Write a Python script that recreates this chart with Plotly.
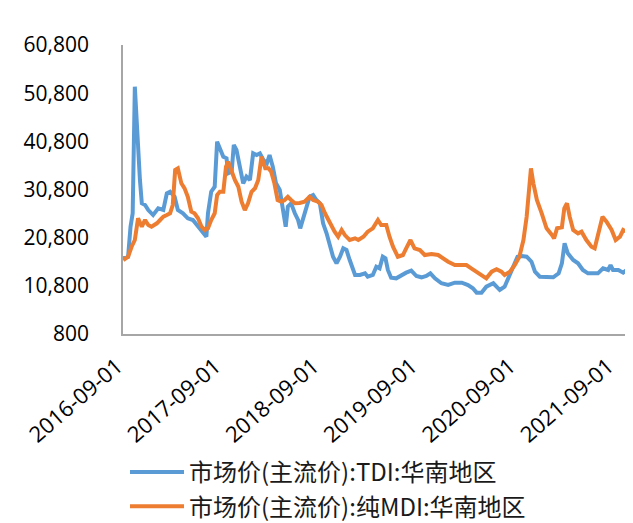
import plotly.graph_objects as go

# ---------------- data ----------------
tdi_dates = [
    "2016-09-02", "2016-09-20", "2016-09-29", "2016-10-07", "2016-10-15", "2016-10-21",
    "2016-10-27", "2016-11-03", "2016-11-10", "2016-11-22", "2016-12-04", "2016-12-22",
    "2017-01-10", "2017-01-29", "2017-02-11", "2017-02-23", "2017-03-12", "2017-03-24",
    "2017-04-12", "2017-04-30", "2017-05-19", "2017-06-07", "2017-06-25", "2017-07-08",
    "2017-07-14", "2017-07-26", "2017-08-08", "2017-08-17", "2017-08-27", "2017-09-09",
    "2017-09-21", "2017-09-27", "2017-10-10", "2017-10-18", "2017-10-28", "2017-11-10",
    "2017-11-22", "2017-12-04", "2017-12-17", "2017-12-29", "2018-01-11", "2018-01-23",
    "2018-02-05", "2018-02-18", "2018-02-28", "2018-03-12", "2018-03-24", "2018-04-07",
    "2018-04-19", "2018-04-29", "2018-05-07", "2018-05-19", "2018-06-02", "2018-06-14",
    "2018-06-22", "2018-07-02", "2018-07-14", "2018-07-27", "2018-08-09", "2018-08-21",
    "2018-09-03", "2018-09-15", "2018-09-28", "2018-10-10", "2018-10-22", "2018-11-04",
    "2018-11-17", "2018-11-29", "2018-12-11", "2018-12-23", "2019-01-12", "2019-01-30",
    "2019-02-18", "2019-02-28", "2019-03-19", "2019-04-01", "2019-04-13", "2019-04-25",
    "2019-05-05", "2019-05-14", "2019-05-26", "2019-06-14", "2019-07-03", "2019-07-21",
    "2019-08-09", "2019-08-28", "2019-09-16", "2019-10-04", "2019-10-19", "2019-11-05",
    "2019-11-29", "2019-12-24", "2020-01-18", "2020-02-13", "2020-03-07", "2020-03-25",
    "2020-04-08", "2020-04-26", "2020-05-14", "2020-06-09", "2020-06-21", "2020-07-03",
    "2020-07-21", "2020-08-07", "2020-08-22", "2020-09-07", "2020-09-23", "2020-10-11",
    "2020-10-29", "2020-11-11", "2020-11-29", "2020-12-24", "2021-01-18", "2021-02-07",
    "2021-02-19", "2021-03-01", "2021-03-13", "2021-04-02", "2021-04-20", "2021-05-08",
    "2021-05-27", "2021-06-15", "2021-07-03", "2021-07-22", "2021-08-10", "2021-08-19",
    "2021-08-28", "2021-09-17", "2021-10-05", "2021-10-18", "2021-11-02",
]
tdi_values = [
    16500, 16850, 23080, 25860, 52140, 45230,
    37610, 32770, 27930, 27580, 26540, 25500,
    26890, 26540, 30010, 30340, 29300, 26540,
    25860, 24820, 24470, 23080, 22040, 21000,
    25860, 30340, 31380, 40720, 39350, 37610,
    37270, 34160, 34490, 40040, 39000, 34850,
    32080, 33470, 32770, 38310, 37960, 38310,
    36920, 36230, 37960, 35540, 32080, 30690,
    26540, 23080, 27230, 27930, 25860, 24470,
    22740, 24470, 26540, 29300, 29660, 28620,
    27930, 23780, 21700, 18920, 16850, 15480,
    16850, 18590, 18240, 16160, 13050, 13050,
    13400, 12700, 13050, 14770, 14440, 16850,
    16510, 14090, 12490, 12360, 13050, 13530,
    13950, 12840, 12570, 12840, 13400, 12360,
    11330, 10970, 11450, 11450, 10970, 10290,
    9380, 9380, 10620, 11330, 10620, 9930,
    10620, 12700, 14770, 16850, 17000, 16850,
    15810, 13740, 12700, 12700, 12570, 13400,
    15480, 19630, 17550, 16160, 15480, 14090,
    13400, 13400, 13400, 14440, 14090, 15120,
    14090, 14090, 13530, 14090, 15120,
]

mdi_dates = [
    "2016-09-02", "2016-09-20", "2016-10-03", "2016-10-15", "2016-10-27", "2016-11-10",
    "2016-11-22", "2016-12-04", "2016-12-16", "2017-01-05", "2017-01-17", "2017-01-29",
    "2017-02-11", "2017-02-23", "2017-03-05", "2017-03-14", "2017-03-24", "2017-04-06",
    "2017-04-18", "2017-04-30", "2017-05-13", "2017-05-25", "2017-06-07", "2017-06-20",
    "2017-07-02", "2017-07-14", "2017-07-26", "2017-08-08", "2017-08-17", "2017-08-27",
    "2017-09-09", "2017-09-19", "2017-09-27", "2017-10-10", "2017-10-22", "2017-11-04",
    "2017-11-16", "2017-11-28", "2017-12-10", "2017-12-23", "2018-01-05", "2018-01-17",
    "2018-01-29", "2018-02-12", "2018-02-24", "2018-03-06", "2018-03-18", "2018-03-30",
    "2018-04-13", "2018-04-25", "2018-05-07", "2018-05-19", "2018-06-02", "2018-06-20",
    "2018-07-08", "2018-07-27", "2018-08-09", "2018-08-27", "2018-09-09", "2018-09-22",
    "2018-10-04", "2018-10-16", "2018-10-28", "2018-11-10", "2018-11-23", "2018-12-05",
    "2018-12-23", "2019-01-12", "2019-01-24", "2019-02-12", "2019-02-28", "2019-03-19",
    "2019-04-07", "2019-04-19", "2019-05-08", "2019-05-20", "2019-06-02", "2019-06-20",
    "2019-07-09", "2019-07-21", "2019-08-06", "2019-08-21", "2019-09-10", "2019-09-28",
    "2019-10-23", "2019-11-17", "2019-12-05", "2019-12-24", "2020-01-18", "2020-02-13",
    "2020-03-01", "2020-03-19", "2020-04-08", "2020-04-26", "2020-05-14", "2020-06-03",
    "2020-06-21", "2020-07-09", "2020-07-21", "2020-08-10", "2020-08-28", "2020-09-14",
    "2020-09-29", "2020-10-11", "2020-10-19", "2020-10-27", "2020-11-05", "2020-11-18",
    "2020-12-06", "2020-12-24", "2021-01-13", "2021-01-21", "2021-02-01", "2021-02-19",
    "2021-02-28", "2021-03-10", "2021-03-20", "2021-04-02", "2021-04-20", "2021-05-03",
    "2021-05-21", "2021-06-09", "2021-06-21", "2021-07-03", "2021-07-20", "2021-08-04",
    "2021-08-23", "2021-09-07", "2021-09-23", "2021-10-05", "2021-10-18", "2021-10-30",
]
mdi_values = [
    16160, 16850, 18920, 20310, 24820, 23080,
    24470, 23430, 23080, 23780, 24470, 25160,
    25500, 25860, 27580, 34850, 35200, 32080,
    31050, 29300, 26190, 25860, 24820, 23080,
    22390, 22740, 24470, 25860, 29660, 30340,
    30340, 35540, 36570, 34490, 32770, 31380,
    28270, 26540, 27930, 30340, 31050, 32770,
    37610, 35200, 35200, 34490, 32080, 28620,
    28270, 28620, 29300, 28620, 27930, 28000,
    28270, 29300, 28620, 28270, 27580, 25860,
    24470, 23080, 22040, 21000, 22390, 21350,
    20310, 20660, 20310, 21000, 22040, 22740,
    24470, 23430, 23430, 21000, 18920, 16850,
    17200, 18590, 20310, 18590, 18240, 17200,
    17400, 17200, 16510, 15810, 15120, 15120,
    15120, 14440, 13740, 13050, 12360, 13740,
    14230, 13740, 13050, 13740, 15120, 16850,
    20310, 25160, 31380, 35200, 32080, 28620,
    25860, 22740, 21350, 20660, 22740, 22950,
    26890, 27930, 25160, 22390, 21700, 22040,
    20310, 18920, 18590, 21700, 25160, 24120,
    22390, 20310, 21000, 22390, 22040, 23430,
]

tdi_name = "市场价(主流价):TDI:华南地区"
mdi_name = "市场价(主流价):纯MDI:华南地区"

x_tick_dates = ["2016-09-01", "2017-09-01", "2018-09-01", "2019-09-01", "2020-09-01", "2021-09-01"]
y_ticks = [800, 10800, 20800, 30800, 40800, 50800, 60800]
x_range = ["2016-09-01", "2021-11-03"]
y_range = [800, 60800]

# ---------------- figure ----------------
FONT = "Open Sans, Noto Sans CJK SC, sans-serif"
CJK = "Noto Sans CJK SC, sans-serif"

fig = go.Figure()
fig.add_trace(go.Scatter(x=tdi_dates, y=tdi_values, name=tdi_name, mode="lines",
                         legendgroup="tdi",
                         line=dict(color="#5b9bd5", width=4)))
fig.add_trace(go.Scatter(x=mdi_dates, y=mdi_values, name=mdi_name, mode="lines",
                         legendgroup="mdi",
                         line=dict(color="#ed7d31", width=4)))

# the page body has an 8px margin, so the figure is drawn 8px smaller and shifted
fig.update_layout(
    width=625, height=515,
    margin=dict(l=115, r=2, t=37, b=189, autoexpand=False),
    paper_bgcolor="white", plot_bgcolor="white",
    font=dict(family=FONT, size=21, color="#000000"),
    showlegend=True,
    legend=dict(
        orientation="v", traceorder="normal",
        x=2 / 508, y=-116 / 289, xanchor="left", yanchor="top",
        font=dict(family=CJK, size=24, color="#1a1a1a"),
        tracegroupgap=4, itemwidth=54,
        bgcolor="rgba(0,0,0,0)",
    ),
    shapes=[dict(type="line", xref="paper", yref="paper",
                 x0=-0.3, x1=1.1, y0=329 / 289, y1=329 / 289,
                 line=dict(color="#0b4a9a", width=3))],
)
fig.update_xaxes(
    type="date", range=x_range,
    tickvals=x_tick_dates, ticktext=x_tick_dates, tickangle=-41,
    showgrid=False, zeroline=False,
    showline=True, linecolor="#a6a6a6", linewidth=1.5,
    ticks="", ticklabelstandoff=9, ticklabelshift=-6,
    tickfont=dict(family=FONT, size=22),
)
fig.update_yaxes(
    range=y_range, tickvals=y_ticks, tickformat=",",
    showgrid=False, zeroline=False,
    showline=True, linecolor="#a6a6a6", linewidth=1.5,
    ticks="", ticklabelstandoff=28, tickfont=dict(family=FONT, size=21),
)

fig.write_html("out.html")
